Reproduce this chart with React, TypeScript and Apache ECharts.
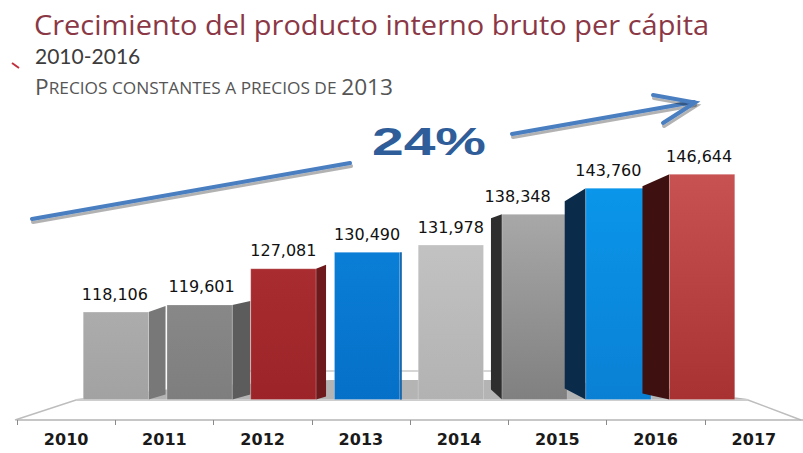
import React, { useEffect, useRef } from "react";
import * as echarts from "echarts";

const years = ["2010", "2011", "2012", "2013", "2014", "2015", "2016", "2017"];
const pib = [118106, 119601, 127081, 130490, 131978, 138348, 143760, 146644];
const growthLabel = "24%";
const titleText = "Crecimiento del producto interno bruto per cápita";
const periodText = "2010-2016";

// styling (not data)
const frontTop = ["#acacac", "#888888", "#a82c30", "#0a7ed6", "#c2c2c2", "#a8a8a8", "#0a96ea", "#c85252"];
const frontBottom = ["#a2a2a2", "#7e7e7e", "#9c2428", "#0670c8", "#b2b2b2", "#808080", "#0a80d4", "#a83232"];
const sideColor = ["#787878", "#5c5c5c", "#6e1a1c", "#0a5ea6", "#9a9a9a", "#2e2e2e", "#0b2b4b", "#3e1010"];
const sideDx = [17, 18, 10, 2, 0, -11, -21, -27];
const sideTopDy = [-6, -4, -4, 0, 0, 4, 13, 12];
const sideBotDy = [-5, -5, -3, 0, 0, -10, -11, -6];
const labelShift = [-1, 2, 0, 0, 0, -17, -10, -3];
const Y_MIN = 100000;
const Y_MAX = 150000;

export default function App() {
  const ref = useRef<HTMLDivElement>(null);
  useEffect(() => {
    if (!ref.current) return;
    const chart = echarts.init(ref.current, null, { renderer: "svg" });
    const blue = "#4a7ec0";
    const shadow = { shadowColor: "rgba(0,0,0,0.3)", shadowOffsetY: 3, shadowOffsetX: 1, shadowBlur: 1.5 };
    const option: any = {
      animation: false,
      backgroundColor: "#ffffff",
      grid: [
        { left: 74, right: 59, top: 158, bottom: 53.4 },
        { left: 17, right: 0, top: 400, bottom: 33 },
      ],
      xAxis: [
        { type: "category", data: years, gridIndex: 0, show: false },
        {
          type: "category",
          data: years,
          gridIndex: 1,
          axisLine: { show: true, lineStyle: { color: "#b4b4b4", width: 1.5 } },
          axisTick: { show: true, length: 5, lineStyle: { color: "#8a8a8a" } },
          axisLabel: {
            margin: 11,
            fontFamily: "DejaVu Sans",
            fontWeight: "bold",
            fontSize: 16,
            color: "#1a1a1a",
          },
        },
      ],
      yAxis: [
        { type: "value", gridIndex: 0, min: Y_MIN, max: Y_MAX, show: false },
        { type: "value", gridIndex: 1, show: false },
      ],
      graphic: [
        // title lines
        {
          type: "text",
          x: 34,
          y: 10,
          scaleX: 1.035,
          style: { text: titleText, font: "28px 'Open Sans'", fill: "#8b3846", x: 0, y: 0 },
        },
        {
          type: "text",
          x: 35,
          y: 45,
          style: { text: periodText, font: "21px Lato", fill: "#3c3c3c", x: 0, y: 0 },
        },
        {
          type: "text",
          x: 35,
          y: 76,
          scaleX: 1.08,
          style: {
            x: 0,
            y: 0,
            text: "{b|P}{s|RECIOS CONSTANTES A PRECIOS DE }{b|2013}",
            fill: "#555555",
            rich: {
              b: { fontFamily: "Open Sans", fontSize: 21, color: "#555555", verticalAlign: "bottom" },
              s: { fontFamily: "Open Sans", fontSize: 16, color: "#555555", verticalAlign: "bottom", padding: [0, 0, 1, 0] },
            },
          },
        },
        {
          type: "line",
          shape: { x1: 12, y1: 63, x2: 19, y2: 68 },
          style: { stroke: "#c0303e", lineWidth: 2 },
        },
        // floor
        {
          type: "line",
          z: 0,
          shape: { x1: 250, y1: 371, x2: 560, y2: 371 },
          style: { stroke: "#c8c8c8", lineWidth: 1.5 },
        },
        {
          type: "polygon",
          z: 0,
          shape: { points: [[76, 399], [200, 386], [330, 380], [500, 380], [640, 385], [748, 399]] },
          style: { fill: "#b4b4b4" },
        },
        {
          type: "polyline",
          z: 0,
          shape: { points: [[15, 420], [76, 400], [748, 400], [801, 420]] },
          style: { stroke: "#bdbdbd", lineWidth: 1.5, fill: null },
        },
        // arrow
        {
          type: "line",
          shape: { x1: 32, y1: 219, x2: 350, y2: 163 },
          style: { stroke: blue, lineWidth: 4, lineCap: "round", ...shadow },
        },
        {
          type: "line",
          shape: { x1: 512, y1: 134, x2: 694, y2: 102 },
          style: { stroke: blue, lineWidth: 4, lineCap: "round", ...shadow },
        },
        {
          type: "polyline",
          shape: { points: [[653, 95], [695, 102.5], [663, 123]] },
          style: { stroke: blue, lineWidth: 4, lineCap: "round", lineJoin: "miter", fill: null, ...shadow },
        },
        {
          type: "text",
          x: 429,
          y: 142,
          scaleX: 1.5,
          style: {
            text: growthLabel,
            font: "bold 38px 'Liberation Sans'",
            fill: "#2e5d99",
            align: "center",
            verticalAlign: "middle",
          },
        },
      ],
      series: [
        {
          type: "custom",
          xAxisIndex: 0,
          yAxisIndex: 0,
          z: 3,
          data: pib.map((v, i) => [i, v]),
          encode: { x: 0, y: 1 },
          renderItem: (params: any, api: any) => {
            const i = api.value(0);
            const v = api.value(1);
            const top = api.coord([i, v]);
            const base = api.coord([i, Y_MIN]);
            const w = api.size([1, 0])[0] * 0.78;
            const x0 = top[0] - w / 2;
            const x1 = top[0] + w / 2;
            const dx = sideDx[i];
            const edge = dx >= 0 ? x1 : x0;
            const children: any[] = [];
            if (dx !== 0) {
              children.push({
                type: "polygon",
                shape: {
                  points: [
                    [edge, top[1]],
                    [edge + dx, top[1] + sideTopDy[i]],
                    [edge + dx, base[1] + sideBotDy[i]],
                    [edge, base[1]],
                  ],
                },
                style: { fill: sideColor[i] },
              });
            }
            children.push({
              type: "rect",
              shape: { x: x0, y: top[1], width: w, height: base[1] - top[1] },
              style: {
                fill: new echarts.graphic.LinearGradient(0, 0, 0, 1, [
                  { offset: 0, color: frontTop[i] },
                  { offset: 1, color: frontBottom[i] },
                ]),
                stroke: "rgba(255,255,255,0.25)",
                lineWidth: 1,
              },
            });
            children.push({
              type: "text",
              style: {
                text: pib[i].toLocaleString("en-US"),
                x: top[0] + labelShift[i],
                y: top[1] - 18,
                align: "center",
                verticalAlign: "middle",
                font: "16px 'DejaVu Sans'",
                fill: "#111111",
              },
            });
            return { type: "group", children };
          },
        },
      ],
    };
    chart.setOption(option);
    return () => chart.dispose();
  }, []);
  return <div ref={ref} style={{ width: 803, height: 453, position: "absolute", left: 0, top: 0 }} />;
}
